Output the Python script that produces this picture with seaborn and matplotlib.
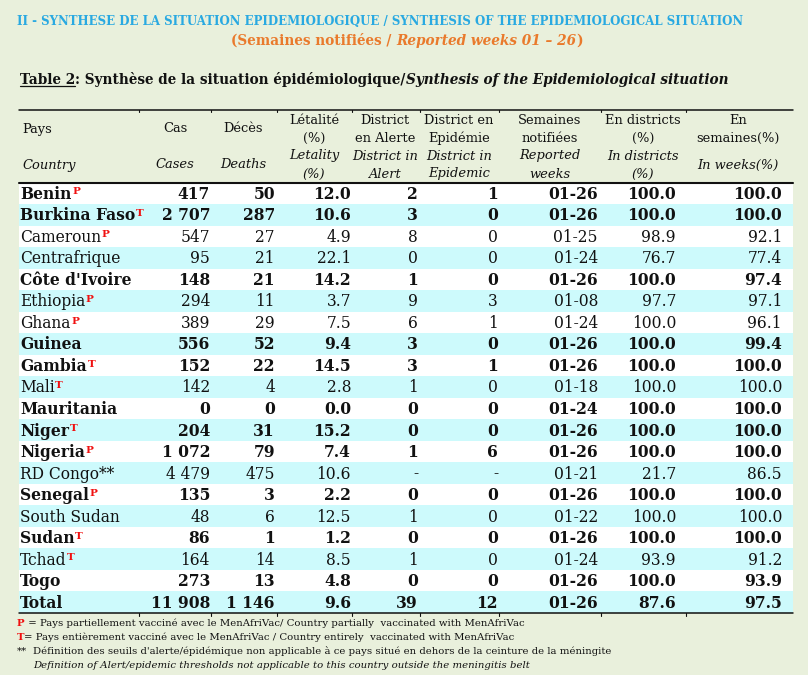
import matplotlib
matplotlib.use("Agg")
import matplotlib.pyplot as plt
import seaborn as sns

# table data (read from the bulletin)
countries = ["Benin", "Burkina Faso", "Cameroun", "Centrafrique", "Côte d'Ivoire",
             "Ethiopia", "Ghana", "Guinea", "Gambia", "Mali", "Mauritania", "Niger",
             "Nigeria", "RD Congo**", "Senegal", "South Sudan", "Sudan", "Tchad",
             "Togo", "Total"]
vaccine = ["P", "T", "P", "", "", "P", "P", "", "T", "T", "", "T", "P", "", "P", "",
           "T", "T", "", ""]
bold_rows = [1, 1, 0, 0, 1, 0, 0, 1, 1, 0, 1, 1, 1, 0, 1, 0, 1, 0, 1, 1]
cases = [417, 2707, 547, 95, 148, 294, 389, 556, 152, 142, 0, 204, 1072, 4479, 135,
         48, 86, 164, 273, 11908]
deaths = [50, 287, 27, 21, 21, 11, 29, 52, 22, 4, 0, 31, 79, 475, 3, 6, 1, 14, 13, 1146]
letality = [12.0, 10.6, 4.9, 22.1, 14.2, 3.7, 7.5, 9.4, 14.5, 2.8, 0.0, 15.2, 7.4,
            10.6, 2.2, 12.5, 1.2, 8.5, 4.8, 9.6]
alert = ["2", "3", "8", "0", "1", "9", "6", "3", "3", "1", "0", "0", "1", "-", "0",
         "1", "0", "1", "0", "39"]
epidemic = ["1", "0", "0", "0", "0", "3", "1", "0", "1", "0", "0", "0", "6", "-", "0",
            "0", "0", "0", "0", "12"]
weeks = ["01-26", "01-26", "01-25", "01-24", "01-26", "01-08", "01-24", "01-26",
         "01-26", "01-18", "01-24", "01-26", "01-26", "01-21", "01-26", "01-22",
         "01-26", "01-24", "01-26", "01-26"]
in_districts = [100.0, 100.0, 98.9, 76.7, 100.0, 97.7, 100.0, 100.0, 100.0, 100.0,
                100.0, 100.0, 100.0, 21.7, 100.0, 100.0, 100.0, 93.9, 100.0, 87.6]
in_weeks = [100.0, 100.0, 92.1, 77.4, 97.4, 97.1, 96.1, 99.4, 100.0, 100.0, 100.0,
            100.0, 100.0, 86.5, 100.0, 100.0, 100.0, 91.2, 93.9, 97.5]

header_fr = [["Pays"], ["Cas"], ["Décès"], ["Létalité", "(%)"], ["District", "en Alerte"],
             ["District en", "Epidémie"], ["Semaines", "notifiées"], ["En districts", "(%)"],
             ["En", "semaines(%)"]]
header_en = [["Country"], ["Cases"], ["Deaths"], ["Letality", "(%)"], ["District in", "Alert"],
             ["District in", "Epidemic"], ["Reported", "weeks"], ["In districts", "(%)"],
             ["In weeks(%)"]]

title1 = "II - SYNTHESE DE LA SITUATION EPIDEMIOLOGIQUE / SYNTHESIS OF THE EPIDEMIOLOGICAL SITUATION"
notes = ["= Pays partiellement vacciné avec le MenAfriVac/ Country partially  vaccinated with MenAfriVac",
         "= Pays entièrement vacciné avec le MenAfriVac / Country entirely  vaccinated with MenAfriVac",
         "Définition des seuils d'alerte/épidémique non applicable à ce pays situé en dehors de la ceinture de la méningite",
         "Definition of Alert/epidemic thresholds not applicable to this country outside the meningitis belt"]


def fmt_int(v):
    return f"{v:,}".replace(",", " ")


sns.set_theme(style="white")
plt.rcParams['font.family'] = ['DejaVu Serif']

BG = '#e9f0dc'
STRIPE = '#cdfafc'
RED = '#f01010'
INK = '#111111'

fig = plt.figure(figsize=(8.08, 6.75), dpi=100)
fig.patch.set_facecolor(BG)
ax = fig.add_axes([0, 0, 1, 1])
ax.set_xlim(0, 808)
ax.set_ylim(675, 0)
ax.axis('off')


def rich(x, y, parts, size, **kw):
    arts = []
    prev = None
    for txt, props in parts:
        p = dict(kw)
        p.update(props)
        if prev is None:
            t = ax.text(x, y, txt, va='baseline', ha='left', fontsize=size, **p)
        else:
            t = ax.annotate(txt, xy=(1, 0), xycoords=prev, va='bottom', ha='left',
                            fontsize=size, **p)
        arts.append(t)
        prev = t
    return arts


def width_of(arts):
    fig.canvas.draw()
    r = fig.canvas.get_renderer()
    bbs = [a.get_window_extent(r) for a in arts]
    return max(b.x1 for b in bbs) - min(b.x0 for b in bbs)


def fit(arts, target):
    k = target / width_of(arts)
    for a in arts:
        a.set_fontsize(a.get_fontsize() * k)
    return arts[0].get_fontsize()


# titles
t1 = ax.text(17, 25, title1, color='#29a9e1', fontweight='bold', fontsize=9,
             va='baseline')
t2 = rich(0, 45, [("(Semaines notifiées / ", {}),
                  ("Reported weeks 01 – 26", {'style': 'italic'}),
                  (")", {})], 10, color='#e97a2c', fontweight='bold')
cap = rich(20, 84, [("Table 2", {}), (": Synthèse de la situation épidémiologique/", {}),
                    ("Synthesis of the Epidemiological situation", {'style': 'italic'})],
           9.5, color=INK, fontweight='bold')

# table geometry
x0, x1 = 19, 793
top, head_bot, bot = 110, 182.5, 613
n = len(countries)
row_h = (bot - head_bot) / n
centers = [head_bot + row_h * (i + 0.5) for i in range(n)]
ax.barh(centers, x1 - x0, left=x0, height=row_h,
        color=['white' if i % 2 == 0 else STRIPE for i in range(n)], edgecolor='none')

ax.plot([x0, x1], [top, top], color=INK, lw=1.1)
ax.plot([x0, x1], [head_bot, head_bot], color=INK, lw=1.5)
ax.plot([x0, x1], [bot, bot], color=INK, lw=1.1)
seps = [139, 211, 277, 352, 420, 499, 601, 686]
for s in seps:
    ax.plot([s, s], [top, top + 2], color=INK, lw=0.8)
    ax.plot([s, s], [bot, bot + 3], color=INK, lw=0.8)

# header
hx = [22, 175, 243, 314, 385, 459, 550, 643, 738]
hs = 9.4
for j in range(len(hx)):
    ha = 'left' if j == 0 else 'center'
    fr, en = header_fr[j], header_en[j]
    fr_y = [129] if len(fr) == 1 else [120, 138]
    en_y = [165] if len(en) == 1 else [156, 174]
    for txt, yy in zip(fr, fr_y):
        ax.text(hx[j], yy, txt, ha=ha, va='center', fontsize=hs, color=INK)
    for txt, yy in zip(en, en_y):
        ax.text(hx[j], yy, txt, ha=ha, va='center', fontsize=hs, color=INK,
                style='italic')

# body
bs = 11.2
col_right = [210, 275, 351, 418, 498, 598, 676, 782]
for i in range(n):
    yc = centers[i] + 1
    w = 'bold' if bold_rows[i] else 'normal'
    name = ax.text(20, yc, countries[i], ha='left', va='center', fontsize=bs,
                   fontweight=w, color=INK)
    if vaccine[i]:
        ax.annotate(vaccine[i], xy=(1, 1), xycoords=name, xytext=(0.5, -1.2),
                    textcoords='offset points', ha='left', va='top', fontsize=7.5,
                    fontweight='bold', color=RED)
    vals = [fmt_int(cases[i]), fmt_int(deaths[i]), f"{letality[i]:.1f}", alert[i],
            epidemic[i], weeks[i], f"{in_districts[i]:.1f}", f"{in_weeks[i]:.1f}"]
    for xr, v in zip(col_right, vals):
        ax.text(xr, yc, v, ha='right', va='center', fontsize=bs, fontweight=w,
                color=INK)

# footnotes
n3 = ax.text(33, 653.5, notes[2], fontsize=7, color=INK, va='baseline')
fs = fit([n3], 615 - 33)
rich(17, 625.5, [("P", {'color': RED, 'fontweight': 'bold'}), (" " + notes[0], {})],
     fs, color=INK)
rich(17, 639.5, [("T", {'color': RED, 'fontweight': 'bold'}), (notes[1], {})],
     fs, color=INK)
ax.text(17, 653.5, "**", fontsize=fs, color=INK, va='baseline')
ax.text(33, 667.5, notes[3], fontsize=fs, color=INK, va='baseline', style='italic')

# fit titles to the reference widths, center the orange subtitle, underline "Table 2"
fit([t1], 747 - 17)
fit(cap, 727 - 20)
fit(t2, 582 - 229)
t2[0].set_x(407 - width_of(t2) / 2)
fig.canvas.draw()
bb = cap[0].get_window_extent(fig.canvas.get_renderer())
inv = ax.transData.inverted()
(ux0, _), (ux1, _) = inv.transform([(bb.x0, bb.y0), (bb.x1, bb.y0)])
ax.plot([ux0, ux1], [86, 86], color=INK, lw=0.9)

fig.savefig('out.png', dpi=100, facecolor=BG)
